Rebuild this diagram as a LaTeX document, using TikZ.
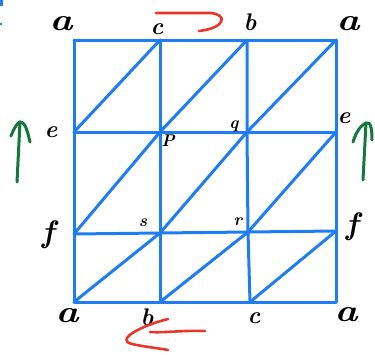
\documentclass[tikz,border=0pt]{standalone}
\usetikzlibrary{calc}
\definecolor{gridblue}{RGB}{30,125,245}
\definecolor{penred}{RGB}{232,55,40}
\definecolor{pengreen}{RGB}{20,120,60}
\tikzset{
  gridline/.style={draw=gridblue, line width=3pt, line cap=round, line join=round},
  redpen/.style={draw=penred, line width=2.6pt, line cap=round},
  greenpen/.style={draw=pengreen, line width=3pt, line cap=round},
  biglbl/.style={font=\fontsize{31}{31}\selectfont\bfseries\itshape, inner sep=0pt, xscale=1.25},
  flbl/.style={font=\fontsize{31}{31}\selectfont\bfseries\itshape, inner sep=0pt},
  midlbl/.style={font=\fontsize{24}{24}\selectfont\bfseries\itshape, inner sep=0pt},
  smalllbl/.style={font=\fontsize{17}{17}\selectfont\bfseries\itshape, inner sep=0pt}
}
\begin{document}
\begin{tikzpicture}[x=1pt,y=-1pt]
\useasboundingbox (0,0) rectangle (375,354);
% grid vertices
\coordinate (A0) at (74,40);  \coordinate (C0) at (160,40);  \coordinate (B0) at (247,40);  \coordinate (D0) at (336,40);
\coordinate (E0) at (74,132); \coordinate (P)  at (160,132); \coordinate (Q)  at (247,132); \coordinate (E1) at (336,132);
\coordinate (F0) at (74,234); \coordinate (S)  at (160,233); \coordinate (R)  at (248,232); \coordinate (F1) at (336,231);
\coordinate (A1) at (74,302); \coordinate (B1) at (160,302); \coordinate (C1) at (250,302); \coordinate (D1) at (336,302);
% horizontals
\draw[gridline] (A0) -- (C0) -- (B0) -- (D0);
\draw[gridline] (E0) -- (P) -- (Q) -- (E1);
\draw[gridline] (F0) -- (S) -- (R) -- (F1);
\draw[gridline] (A1) -- (B1) -- (C1) -- (D1);
% verticals
\draw[gridline] (A0) -- (E0) -- (F0) -- (A1);
\draw[gridline] (C0) -- (P) -- (S) -- (B1);
\draw[gridline] (B0) -- (Q) -- (R) -- (C1);
\draw[gridline] (D0) -- (E1) -- (F1) -- (D1);
% diagonals
\draw[gridline] (E0) -- (C0);
\draw[gridline] (P) -- (B0);
\draw[gridline] (Q) -- (D0);
\draw[gridline] (F0) -- (P);
\draw[gridline] (S) -- (Q);
\draw[gridline] (R) -- (E1);
\draw[gridline] (A1) -- (S);
\draw[gridline] (B1) -- (R);
\draw[gridline] (C1) -- (F1);
% tiny blue marks at the corner
\fill[gridblue] (0,0) rectangle (3,6);
\fill[gridblue] (0,23) rectangle (2,25);
% labels
\node[biglbl] (la1) at (61,24) {a};
\node[midlbl] (lc1) at (157,29) {c};
\node[midlbl] (lb1) at (250,22) {b};
\node[biglbl] (la2) at (348,24) {a};
\node[midlbl] (le1) at (51,132) {e};
\node[flbl] (lf1) at (48,235) {f};
\node[midlbl] (le2) at (344,118) {e};
\node[flbl] (lf2) at (352,227) {f};
\node[smalllbl] (lp) at (168,141) {P};
\node[smalllbl] (lq) at (234,126) {q};
\node[smalllbl] (ls) at (143,223) {s};
\node[smalllbl] (lr) at (238,222) {r};
\node[biglbl] (la3) at (67,316) {a};
\node[midlbl] (lb2) at (147,317) {b};
\node[midlbl] (lc2) at (254,318) {c};
\node[biglbl] (la4) at (346,315) {a};
% red arrows
\coordinate (rt0) at (156,13); \coordinate (rt1) at (210,13);
\coordinate (rt2) at (199,31);
\draw[redpen] (rt0) -- (rt1) .. controls (228,14) and (226,28) .. (rt2);
\coordinate (rb0) at (205,331); \coordinate (rb1) at (150,332);
\coordinate (rb2) at (168,319); \coordinate (rb3) at (168,350);
\draw[redpen] (rb0) .. controls (185,330) and (165,333) .. (rb1);
\draw[redpen] (rb2) .. controls (140,326) and (115,340) .. (132,344) .. controls (145,347) and (158,348) .. (rb3);
% green arrows
\coordinate (gl0) at (17,182); \coordinate (gl1) at (20,122);
\draw[greenpen] (gl0) -- (gl1);
\draw[greenpen] (11,136) .. controls (14,128) and (18,122) .. (gl1) .. controls (26,122) and (28,134) .. (30,142);
\coordinate (gr0) at (363,180); \coordinate (gr1) at (366,123);
\draw[greenpen] (gr0) -- (gr1);
\draw[greenpen] (353,142) .. controls (356,132) and (361,125) .. (gr1) .. controls (371,121) and (372,130) .. (372,140);
\end{tikzpicture}
\end{document}
